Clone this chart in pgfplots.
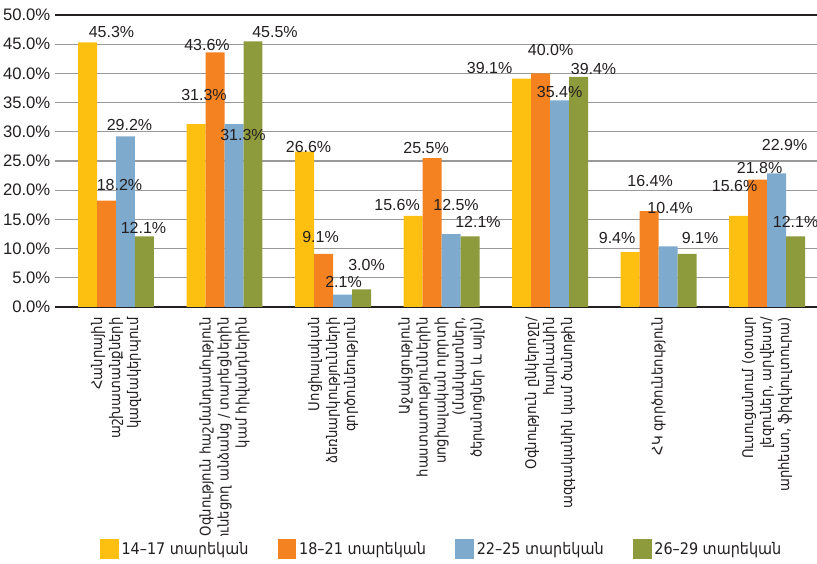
\documentclass[border=0pt]{standalone}
\usepackage{fontspec}
\setmainfont{Liberation Sans}
\newfontfamily\arm{DejaVu Sans Condensed}
\usepackage{pgfplots}
\usepackage{pgfplotstable}
\pgfplotsset{compat=1.18}

\definecolor{cyel}{HTML}{FDC010}
\definecolor{cora}{HTML}{F58220}
\definecolor{cblu}{HTML}{7EAACE}
\definecolor{cgrn}{HTML}{8E9B3C}
\definecolor{ctxt}{HTML}{231F20}
\definecolor{cgrid}{HTML}{999999}

% x = category, y = value, dx/dy = label offset in px
\pgfplotstableread{
x y dx dy
0 45.3 24 10.5
1 31.3 8 29
2 26.6 4 5
3 15.6 -16 11
4 39.1 -32 11
5 9.4 -13 14
6 15.6 -4 30
}\tyel
\pgfplotstableread{
x y dx dy
0 18.2 13 16
1 43.6 -8 7
2 9.1 -3 17
3 25.5 -6 10
4 40.0 10 23
5 16.4 1 30
6 21.8 2 12
}\tora
\pgfplotstableread{
x y dx dy
0 29.2 4 11.5
1 31.3 9 -11
2 2.1 1 13
3 12.5 5 29
4 35.4 0 8
5 10.4 2 38
6 22.9 8 28
}\tblu
\pgfplotstableread{
x y dx dy
0 12.1 -1 8
1 45.5 22 9
2 3.0 5 24
3 12.1 8 14
4 39.4 15 8
5 9.1 13 16
6 12.1 0 14
}\tgrn

\begin{document}
\begin{tikzpicture}
\begin{axis}[
  scale only axis,
  width=571.5pt, height=219pt,
  ybar=0pt, bar width=0.175,
  xmin=-0.562, xmax=6.46,
  ymin=0, ymax=50,
  ytick={0,5,...,50},
  xtick={0,...,6},
  xticklabels={
    {Հանրային\\աշխատանքների\\կազմակերպում},
    {Օգնություն հաշմանդամություն\\ունեցող անձանց / տարեցներին\\կամ հիվանդներին},
    {Սոցիալական\\ձեռնարկությունների\\գործունեություն},
    {Աջակցություն\\հաստատություններին\\սոցիալական ոլորտի\\(մանկատներ,\\ծերանոցներ և այլն)},
    {Օգնություն ընկերոջը/\\հարևանին\\ազգականին կամ ծանոթին},
    {ՀԿ գործունեություն},
    {Ուսուցանում (օտար\\լեզուներ, արվեստ/\\արհեստ, ֆիզկուլտուրա)}},
  xticklabel style={rotate=90, anchor=east, align=right,
    font=\arm\fontsize{11}{13.5}\selectfont, text=ctxt},
  yticklabel={\pgfmathprintnumber[assume math mode=true,fixed,fixed zerofill,precision=1]{\tick}\%},
  yticklabel style={font=\fontsize{12.5}{14}\selectfont, text=ctxt},
  xtick style={draw=none}, ytick style={draw=none},
  separate axis lines,
  x axis line style={draw=ctxt, line width=1pt},
  y axis line style={draw=none},
  grid=major, xmajorgrids=false,
  major grid style={color=cgrid, line width=1pt, opacity=1},
  clip=false,
  nodes near coords={\pgfmathprintnumber[assume math mode=true,fixed,fixed zerofill,precision=1]{\pgfplotspointmeta}\%},
  visualization depends on={\thisrow{dx} \as \dx},
  visualization depends on={\thisrow{dy} \as \dy},
  every node near coord/.append style={anchor=center, inner sep=0pt,
    xshift=\dx*0.75pt, yshift=\dy*0.75pt,
    font=\fontsize{12}{14}\selectfont, text=ctxt},
  legend columns=4,
  legend style={draw=none, at={(0.508,-0.829)}, anchor=center,
    font=\arm\fontsize{12}{14}\selectfont, text=ctxt,
    /tikz/every even column/.append style={column sep=20pt}},
  legend image code/.code={\fill[#1] (0pt,-7.5pt) rectangle (14pt,7.5pt);},
]
\addplot[fill=cyel, draw=none] table[x=x, y=y] {\tyel};
\addplot[fill=cora, draw=none] table[x=x, y=y] {\tora};
\addplot[fill=cblu, draw=none] table[x=x, y=y] {\tblu};
\addplot[fill=cgrn, draw=none] table[x=x, y=y] {\tgrn};
\legend{14–17 տարեկան, 18–21 տարեկան, 22–25 տարեկան, 26–29 տարեկան}
\coordinate (bl) at (rel axis cs:-0.0722,-0.8801);
\coordinate (tr) at (rel axis cs:1,1.0514);
\end{axis}
\pgfresetboundingbox
\path (bl) rectangle (tr);
\end{tikzpicture}
\end{document}
